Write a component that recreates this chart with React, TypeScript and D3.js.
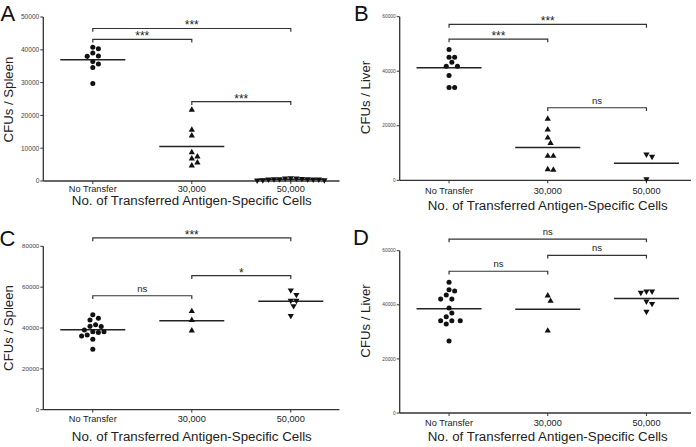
import React from "react";
import * as d3 from "d3";

const categories = ["No Transfer", "30,000", "50,000"];

// Panel A: CFUs / Spleen
const aNoTransfer = [40800, 40300, 39000, 38100, 38000, 36400, 35700, 34600, 29700];
const a30000 = [21700, 15600, 13800, 8700, 7400, 6800, 5600, 4700];
const a50000 = [600, 900, 800, 700, 300, 800, 200, 500, 300, 600, 600, 500, 500];
const aTicks = [0, 10000, 20000, 30000, 40000, 50000];
const compsA = [
  { from: 0, to: 1, label: "***", level: 43200 },
  { from: 0, to: 2, label: "***", level: 46500 },
  { from: 1, to: 2, label: "***", level: 24200 },
];

// Panel B: CFUs / Liver
const bNoTransfer = [48000, 45100, 45100, 43300, 41800, 41800, 38400, 34000, 34000];
const b30000 = [22500, 18600, 15600, 13600, 8900, 8900, 4000, 3800];
const b50000 = [9500, 8700, 500];
const bTicks = [0, 20000, 40000, 60000];
const compsB = [
  { from: 0, to: 1, label: "***", level: 51800 },
  { from: 0, to: 2, label: "***", level: 57200 },
  { from: 1, to: 2, label: "ns", level: 26600 },
];

// Panel C: CFUs / Spleen
const cNoTransfer = [46500, 44800, 43900, 41600, 40800, 40700, 39000, 38200, 38200, 37800, 36600, 36100, 34500, 29600];
const c30000 = [48200, 43800, 38700];
const c50000 = [58500, 56300, 53400, 53400, 50800, 46000];
const cTicks = [0, 20000, 40000, 60000, 80000];
const compsC = [
  { from: 0, to: 1, label: "ns", level: 55800 },
  { from: 1, to: 2, label: "*", level: 65600 },
  { from: 0, to: 2, label: "***", level: 84100 },
];

// Panel D: CFUs / Liver
const dNoTransfer = [48300, 45600, 45100, 43600, 42100, 42100, 38800, 37000, 35600, 34100, 34100, 34100, 32900, 26600];
const d30000 = [43400, 41400, 30400];
const d50000 = [45000, 44500, 45000, 40400, 41300, 37500];
const dTicks = [0, 20000, 40000, 60000];
const compsD = [
  { from: 0, to: 1, label: "ns", level: 52400 },
  { from: 1, to: 2, label: "ns", level: 58300 },
  { from: 0, to: 2, label: "ns", level: 64300 },
];

const xTitle = "No. of Transferred Antigen-Specific Cells";

const FONT = "'Liberation Sans', Arial, Helvetica, sans-serif";
const INK = "#222";
const AXIS = "#333";
const TICKTXT = "#444";

function swarm(values: number[], y: (v: number) => number, cx: number, dMin = 5.6, step = 2.8) {
  const order = values.map((v, i) => i).sort((i, j) => values[j] - values[i]);
  const xs: number[] = new Array(values.length).fill(cx);
  const placed: { x: number; y: number }[] = [];
  for (const i of order) {
    const py = y(values[i]);
    for (let k = 0; k < 200; k++) {
      const m = Math.ceil(k / 2) * (k % 2 === 1 ? 1 : -1);
      const px = cx + m * step;
      const ok = placed.every((p) => (p.x - px) ** 2 + (p.y - py) ** 2 >= dMin * dMin);
      if (ok) {
        xs[i] = px;
        placed.push({ x: px, y: py });
        break;
      }
    }
  }
  return xs;
}

type Comp = { from: number; to: number; label: string; level: number };

type PanelProps = {
  letter: string;
  letterX: number;
  letterY: number;
  yTitle: string;
  yTitleX: number;
  yTitleY: number;
  left: number;
  step: number;
  axisEnd: number;
  top: number;
  bottom: number;
  yTicks: number[];
  tickFont: number;
  series: number[][];
  comps: Comp[];
  catLabelY: number;
  xTitleY: number;
};

const shapes = [d3.symbolCircle, d3.symbolTriangle, d3.symbolTriangle];
const sizes = [20, 17, 17];
const rotations = [0, 0, 180];

function Panel(p: PanelProps) {
  const yMax = p.yTicks[p.yTicks.length - 1];
  const y = d3.scaleLinear().domain([0, yMax]).range([p.bottom, p.top]);
  const x = d3.scaleBand<string>().domain(categories).range([p.left, p.left + 3 * p.step]);
  const cx = (i: number) => (x(categories[i]) as number) + x.bandwidth() / 2;
  const halfMean = 32.5;
  return (
    <g>
      <text x={p.letterX} y={p.letterY} fontSize={22} fontFamily={FONT} fill="#111">
        {p.letter}
      </text>
      <text
        transform={`translate(${p.yTitleX},${p.yTitleY}) rotate(-90)`}
        textAnchor="middle"
        fontSize={13.2}
        fontFamily={FONT}
        fill={INK}
      >
        {p.yTitle}
      </text>
      {/* y axis */}
      <line x1={p.left} x2={p.left} y1={p.top} y2={p.bottom} stroke={AXIS} strokeWidth={1.3} />
      {p.yTicks.map((t) => (
        <g key={t}>
          <line x1={p.left - 3} x2={p.left} y1={y(t)} y2={y(t)} stroke={AXIS} strokeWidth={1} />
          <text
            x={p.left - 4}
            y={y(t)}
            dy="0.35em"
            textAnchor="end"
            fontSize={p.tickFont}
            fontFamily={FONT}
            fill={TICKTXT}
          >
            {t}
          </text>
        </g>
      ))}
      {/* x axis */}
      <line x1={p.left} x2={p.axisEnd} y1={p.bottom} y2={p.bottom} stroke={AXIS} strokeWidth={1.3} />
      {categories.map((c, i) => (
        <g key={c}>
          <line x1={cx(i)} x2={cx(i)} y1={p.bottom} y2={p.bottom + 3} stroke={AXIS} strokeWidth={1} />
          <text x={cx(i)} y={p.catLabelY} textAnchor="middle" fontSize={9.2} fontFamily={FONT} fill={INK}>
            {c}
          </text>
        </g>
      ))}
      <text
        x={p.left + 1.5 * p.step}
        y={p.xTitleY}
        textAnchor="middle"
        fontSize={12}
        textLength={240}
        lengthAdjust="spacingAndGlyphs"
        fontFamily={FONT}
        fill={INK}
      >
        {xTitle}
      </text>
      {/* mean lines */}
      {p.series.map((vals, i) => {
        const m = d3.mean(vals) as number;
        return (
          <line
            key={"m" + i}
            x1={cx(i) - halfMean}
            x2={cx(i) + halfMean}
            y1={y(m)}
            y2={y(m)}
            stroke={INK}
            strokeWidth={1.5}
          />
        );
      })}
      {/* points */}
      {p.series.map((vals, i) => {
        const xs = swarm(vals, y, cx(i));
        const path = d3.symbol().type(shapes[i]).size(sizes[i])() as string;
        return vals.map((v, j) => (
          <path
            key={`p${i}-${j}`}
            d={path}
            fill="#111"
            transform={`translate(${xs[j]},${y(v)}) rotate(${rotations[i]})`}
          />
        ));
      })}
      {/* comparison brackets */}
      {p.comps.map((c, k) => {
        const x1 = cx(c.from);
        const x2 = cx(c.to);
        const yy = y(c.level);
        const isStar = c.label.includes("*");
        return (
          <g key={"c" + k}>
            <path
              d={`M${x1},${yy + 3.3}V${yy}H${x2}V${yy + 3.3}`}
              fill="none"
              stroke={AXIS}
              strokeWidth={1.2}
            />
            <text
              x={(x1 + x2) / 2}
              y={isStar ? yy + 1 : yy - 4}
              textAnchor="middle"
              fontSize={isStar ? 12 : 9.5}
              fontFamily={FONT}
              fill={INK}
            >
              {c.label}
            </text>
          </g>
        );
      })}
    </g>
  );
}

export default function App() {
  return (
    <svg
      width={696}
      height={447}
      viewBox="0 0 696 447"
      style={{ position: "absolute", left: 0, top: 0, background: "#fff", display: "block" }}
    >
      <rect width={696} height={447} fill="#fff" />
      <Panel
        letter="A"
        letterX={0.5}
        letterY={20.5}
        yTitle="CFUs / Spleen"
        yTitleX={12.7}
        yTitleY={99.5}
        left={43.3}
        step={99}
        axisEnd={339.5}
        top={17}
        bottom={181}
        yTicks={aTicks}
        tickFont={6.6}
        series={[aNoTransfer, a30000, a50000]}
        comps={compsA}
        catLabelY={192}
        xTitleY={204.5}
      />
      <Panel
        letter="B"
        letterX={354}
        letterY={20.5}
        yTitle="CFUs / Liver"
        yTitleX={370}
        yTitleY={97.5}
        left={399.7}
        step={98.7}
        axisEnd={691}
        top={16.7}
        bottom={180.3}
        yTicks={bTicks}
        tickFont={4.8}
        series={[bNoTransfer, b30000, b50000]}
        comps={compsB}
        catLabelY={193.5}
        xTitleY={210}
      />
      <Panel
        letter="C"
        letterX={-0.5}
        letterY={245.5}
        yTitle="CFUs / Spleen"
        yTitleX={12.7}
        yTitleY={328}
        left={43.3}
        step={99}
        axisEnd={339.5}
        top={246.3}
        bottom={409.7}
        yTicks={cTicks}
        tickFont={6.2}
        series={[cNoTransfer, c30000, c50000]}
        comps={compsC}
        catLabelY={422}
        xTitleY={440.5}
      />
      <Panel
        letter="D"
        letterX={353}
        letterY={244.8}
        yTitle="CFUs / Liver"
        yTitleX={370}
        yTitleY={321}
        left={399.7}
        step={98.7}
        axisEnd={691}
        top={250.7}
        bottom={413}
        yTicks={dTicks}
        tickFont={4.8}
        series={[dNoTransfer, d30000, d50000]}
        comps={compsD}
        catLabelY={426}
        xTitleY={440.5}
      />
    </svg>
  );
}
